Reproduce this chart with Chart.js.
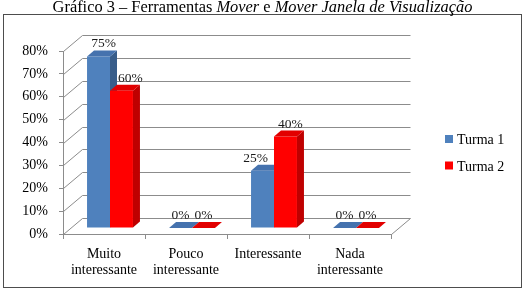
<!DOCTYPE html>
<html>
<head>
<meta charset="utf-8">
<script src="https://cdn.jsdelivr.net/npm/chart.js@4"></script>
<style>
  html, body { margin: 0; padding: 0; background: #fff; }
  #wrap { position: relative; width: 525px; height: 291px; overflow: hidden; }
  #chart { position: absolute; left: 0; top: 0; }
  #title {
    position: absolute; left: 0; top: -1px; width: 525px;
    text-align: center; color: #000;
    font: 16.4px/16px "Liberation Serif", "Times New Roman", serif;
  }
</style>
</head>
<body>
<div id="wrap">
  <canvas id="chart" width="525" height="291"></canvas>
  <div id="title">Gráfico 3 – Ferramentas <i>Mover</i> e <i>Mover Janela de Visualização</i></div>
</div>
<script>
'use strict';

// ── Data ─────────────────────────────────────────────────────────────────────
const categories = [['Muito', 'interessante'], ['Pouco', 'interessante'], 'Interessante', ['Nada', 'interessante']];
const seriesNames = ['Turma 1', 'Turma 2'];
const turma1 = [75, 0, 25, 0];
const turma2 = [60, 0, 40, 0];
const yMax = 80;
const yStep = 10;

// ── Look ─────────────────────────────────────────────────────────────────────
const FONT = '"Liberation Serif", "Times New Roman", serif';
const BLUE = { front: '#4f81bd', side: '#385d8a', top: '#4572ae' };
const RED  = { front: '#ff0000', side: '#bf0000', top: '#e20000' };
const GRID = '#8c8c8c';

const WALL = { dx: 19, dy: -16 };   // depth of the floor / back wall
const BAR  = { dx: 7,  dy: -6 };    // depth of each bar
const SHIFT = { x: 6, y: -6 };      // bars sit a bit behind the front axis

function faces(el) {
  const p = el.getProps(['x', 'y', 'base', 'width'], true);
  return { l: p.x - p.width / 2, r: p.x + p.width / 2, y: p.y, base: p.base, x: p.x };
}

function poly(ctx, pts, fill) {
  ctx.beginPath();
  ctx.moveTo(pts[0][0], pts[0][1]);
  for (let i = 1; i < pts.length; i++) ctx.lineTo(pts[i][0], pts[i][1]);
  ctx.closePath();
  ctx.fillStyle = fill;
  ctx.fill();
}

// push a value label away from a taller neighbour in the same group
function labelNudge(chart, i, j) {
  const v = chart.data.datasets[i].data[j];
  if (!v) return 0;
  const left = chart.data.datasets[i - 1];
  const right = chart.data.datasets[i + 1];
  if (left && left.data[j] > v) return 9;
  if (right && right.data[j] > v) return -7;
  return 5;
}

const box3d = {
  id: 'box3d',
  beforeDraw(chart) {
    const ctx = chart.ctx;
    ctx.save();
    ctx.fillStyle = '#fff';
    ctx.fillRect(0, 0, chart.width, chart.height);
    ctx.strokeStyle = '#4d4d4d';
    ctx.lineWidth = 1;
    ctx.strokeRect(3.5, 14.5, 518, 273);
    ctx.restore();
  },
  // walls, then the bars left to right so each one hides its neighbour's side
  beforeDatasetsDraw(chart) {
    const { ctx, chartArea } = chart;
    const ys = chart.scales.y;
    ctx.save();
    ctx.strokeStyle = GRID;
    ctx.lineWidth = 1;
    const x0 = Math.round(chartArea.left) + 0.5;
    const xr = Math.round(chartArea.right) + 0.5;
    ys.ticks.forEach(t => {
      const yF = Math.round(ys.getPixelForValue(t.value)) + 0.5;
      ctx.beginPath();
      ctx.moveTo(x0, yF);
      ctx.lineTo(x0 + WALL.dx, yF + WALL.dy);
      ctx.lineTo(xr + WALL.dx, yF + WALL.dy);
      ctx.stroke();
    });
    const yb = Math.round(chartArea.bottom) + 0.5;
    ctx.beginPath();
    ctx.moveTo(xr, yb);
    ctx.lineTo(xr + WALL.dx, yb + WALL.dy);
    ctx.stroke();
    ctx.restore();

    ctx.save();
    ctx.translate(SHIFT.x, SHIFT.y);
    const n = chart.data.labels.length;
    for (let j = 0; j < n; j++) {
      chart.data.datasets.forEach((ds, i) => {
        const col = i === 0 ? BLUE : RED;
        const el = chart.getDatasetMeta(i).data[j];
        el.draw(ctx, chartArea);
        const f = faces(el);
        poly(ctx, [[f.r, f.y], [f.r + BAR.dx, f.y + BAR.dy], [f.r + BAR.dx, f.base + BAR.dy], [f.r, f.base]], col.side);
        poly(ctx, [[f.l, f.y], [f.r, f.y], [f.r + BAR.dx, f.y + BAR.dy], [f.l + BAR.dx, f.y + BAR.dy]], col.top);
      });
    }
    ctx.restore();

    // value labels
    ctx.save();
    ctx.font = '13.5px ' + FONT;
    ctx.fillStyle = '#1a1a1a';
    ctx.textAlign = 'center';
    ctx.textBaseline = 'alphabetic';
    chart.data.datasets.forEach((ds, i) => {
      chart.getDatasetMeta(i).data.forEach((el, j) => {
        const f = faces(el);
        const x = f.x + SHIFT.x + labelNudge(chart, i, j);
        const y = f.y + SHIFT.y - 9;
        ctx.fillText(ds.data[j] + '%', x, y);
      });
    });

    // legend
    ctx.font = '14px ' + FONT;
    ctx.textAlign = 'left';
    chart.data.datasets.forEach((ds, i) => {
      const top = 135 + i * 26.5;
      ctx.fillStyle = ds.backgroundColor;
      ctx.fillRect(445, top, 8, 8);
      ctx.fillStyle = '#000';
      ctx.fillText(ds.label, 457, top + 9);
    });
    ctx.restore();
    return false;
  }
};

new Chart(document.getElementById('chart'), {
  type: 'bar',
  data: {
    labels: categories,
    datasets: [
      { label: seriesNames[0], data: turma1, backgroundColor: BLUE.front },
      { label: seriesNames[1], data: turma2, backgroundColor: RED.front },
    ],
  },
  options: {
    responsive: false,
    animation: false,
    devicePixelRatio: 1,
    categoryPercentage: 0.56,
    barPercentage: 1,
    layout: { padding: { top: 51, right: 134, left: 0, bottom: 0 } },
    plugins: {
      legend: { display: false },
      title: { display: false },
      tooltip: { enabled: false },
    },
    scales: {
      x: {
        afterFit: s => { s.height = 57; },
        grid: { offset: true, drawOnChartArea: false, drawTicks: true, tickLength: 5, color: GRID },
        border: { display: true, color: GRID },
        ticks: { color: '#000', padding: 7, maxRotation: 0, autoSkip: false, font: { family: FONT, size: 14, lineHeight: 1.15 } },
      },
      y: {
        min: 0,
        max: yMax,
        afterFit: s => { s.width = 63; },
        grid: { drawOnChartArea: false, drawTicks: true, tickLength: 4, color: GRID },
        border: { display: true, color: GRID },
        ticks: {
          stepSize: yStep,
          color: '#000',
          padding: 11,
          font: { family: FONT, size: 14 },
          callback: v => v + '%',
        },
      },
    },
  },
  plugins: [box3d],
});
</script>
</body>
</html>
